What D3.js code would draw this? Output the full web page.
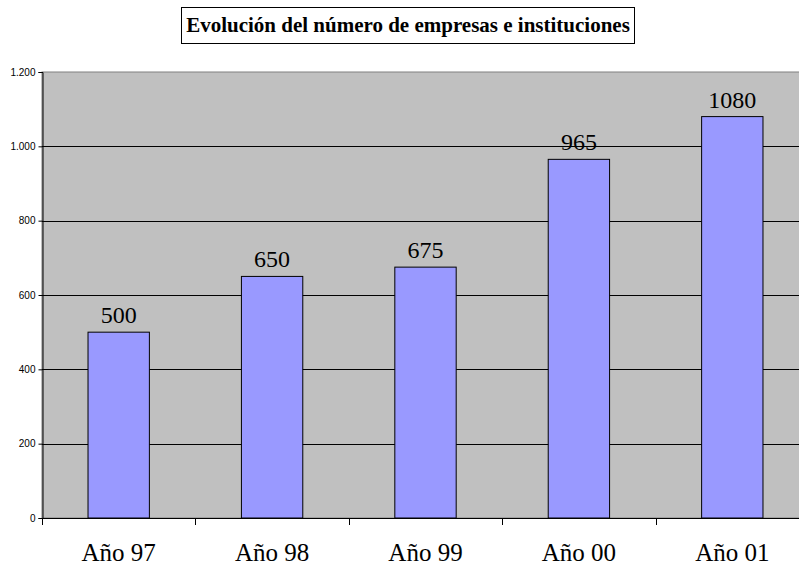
<!DOCTYPE html>
<html>
<head>
<meta charset="utf-8">
<script src="https://cdn.jsdelivr.net/npm/d3@7"></script>
<style>
  html, body { margin: 0; padding: 0; background: #fff; }
  svg { display: block; }
  .serif { font-family: 'Liberation Serif', 'Times New Roman', serif; }
  .sans { font-family: 'Liberation Sans', Arial, sans-serif; }
</style>
</head>
<body>
<svg id="chart"></svg>
<script>
const width = 799;
const height = 565;

const categories = ['Año 97', 'Año 98', 'Año 99', 'Año 00', 'Año 01'];
const values = [500, 650, 675, 965, 1080];
const yTicks = [0, 200, 400, 600, 800, 1000, 1200];
const title = 'Evolución del número de empresas e instituciones';

const plot = { left: 42, top: 72, right: 809, bottom: 518 };

const svg = d3.select('#chart')
    .attr('width', width)
    .attr('height', height);

const x = d3.scaleBand()
    .domain(categories)
    .range([plot.left, plot.right])
    .paddingInner(0.6)
    .paddingOuter(0.3);

const y = d3.scaleLinear()
    .domain([0, 1200])
    .range([plot.bottom, plot.top]);

const locale = d3.formatLocale({ decimal: ',', thousands: '.', grouping: [3], currency: ['', ''] });
const fmt = locale.format(',');

// plot background
svg.append('rect')
    .attr('x', plot.left)
    .attr('y', plot.top)
    .attr('width', plot.right - plot.left)
    .attr('height', plot.bottom - plot.top)
    .attr('fill', '#c0c0c0')
    .attr('stroke', '#808080')
    .attr('stroke-width', 1);

// gridlines
svg.append('g')
    .selectAll('line')
    .data(yTicks.filter(d => d > 0 && d < 1200))
    .enter()
    .append('line')
    .attr('x1', plot.left)
    .attr('x2', plot.right)
    .attr('y1', d => Math.round(y(d)) + 0.5)
    .attr('y2', d => Math.round(y(d)) + 0.5)
    .attr('stroke', '#000')
    .attr('stroke-width', 1);

// bars
svg.append('g')
    .selectAll('rect')
    .data(values)
    .enter()
    .append('rect')
    .attr('x', (d, i) => x(categories[i]))
    .attr('y', d => y(d))
    .attr('width', x.bandwidth())
    .attr('height', d => plot.bottom - y(d))
    .attr('fill', '#9999ff')
    .attr('stroke', '#000')
    .attr('stroke-width', 1);

// value labels
svg.append('g')
    .attr('class', 'serif')
    .selectAll('text')
    .data(values)
    .enter()
    .append('text')
    .attr('class', 'serif')
    .attr('x', (d, i) => x(categories[i]) + x.bandwidth() / 2)
    .attr('y', d => y(d) - 9)
    .attr('text-anchor', 'middle')
    .attr('font-size', 24)
    .attr('fill', '#000')
    .text(d => String(d));

// y axis
const yAxis = svg.append('g')
    .attr('transform', `translate(${plot.left + 0.5}, 0)`)
    .call(d3.axisLeft(y).tickValues(yTicks).tickFormat(fmt).tickSize(4).tickPadding(3));
yAxis.attr('font-family', null).attr('font-size', null).attr('class', 'sans');
yAxis.select('.domain').attr('stroke', '#000');
yAxis.selectAll('.tick line').attr('stroke', '#000');
yAxis.selectAll('.tick text')
    .attr('font-size', 10)
    .attr('fill', '#000');

// x axis line and category boundary ticks
const step = x.step();
const boundaries = categories.map(c => x(c) - step * 0.3).concat([plot.right]);
svg.append('line')
    .attr('x1', plot.left)
    .attr('x2', plot.right)
    .attr('y1', plot.bottom + 0.5)
    .attr('y2', plot.bottom + 0.5)
    .attr('stroke', '#000');
svg.append('g')
    .selectAll('line')
    .data(boundaries)
    .enter()
    .append('line')
    .attr('x1', d => Math.round(d) + 0.5)
    .attr('x2', d => Math.round(d) + 0.5)
    .attr('y1', plot.bottom)
    .attr('y2', plot.bottom + 7)
    .attr('stroke', '#000');

// category labels
svg.append('g')
    .selectAll('text')
    .data(categories)
    .enter()
    .append('text')
    .attr('class', 'serif')
    .attr('x', d => x(d) + x.bandwidth() / 2)
    .attr('y', 561)
    .attr('text-anchor', 'middle')
    .attr('font-size', 25)
    .attr('fill', '#000')
    .text(d => d);

// title box
svg.append('rect')
    .attr('x', 181.5)
    .attr('y', 7.5)
    .attr('width', 453)
    .attr('height', 36)
    .attr('fill', '#fff')
    .attr('stroke', '#000')
    .attr('stroke-width', 1);

svg.append('text')
    .attr('class', 'serif')
    .attr('x', 408)
    .attr('y', 32)
    .attr('text-anchor', 'middle')
    .attr('font-size', 21)
    .attr('font-weight', 'bold')
    .attr('fill', '#000')
    .text(title);
</script>
</body>
</html>
